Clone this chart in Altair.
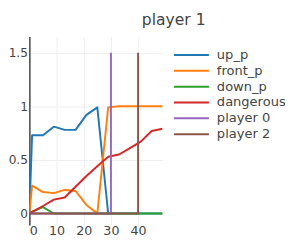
import altair as alt
import pandas as pd

steps = [0, 1, 5, 9, 13, 17, 21, 25, 29, 33, 37, 41, 45, 49]
up_p = [0, 0.73, 0.73, 0.81, 0.78, 0.78, 0.92, 0.99, 0, 0, 0, 0, 0, 0]
front_p = [0, 0.26, 0.20, 0.19, 0.22, 0.21, 0.08, 0, 0.99, 1.0, 1.0, 1.0, 1.0, 1.0]
down_p = [0, 0.015, 0.06, 0, 0, 0, 0, 0, 0, 0, 0, 0, 0, 0]
dangerous = [0, 0.015, 0.07, 0.13, 0.15, 0.25, 0.35, 0.44, 0.53, 0.55, 0.61, 0.67, 0.77, 0.79]
player0_x = [0, 30, 30]
player0_y = [0, 0, 1.5]
player2_x = [0, 40, 40]
player2_y = [0, 0, 1.5]

series = ["up_p", "front_p", "down_p", "dangerous", "player 0", "player 2"]
colors = ["#1f77b4", "#ff7f0e", "#2ca02c", "#d62728", "#9467bd", "#8c564b"]

rows = []
for name, ys in [("up_p", up_p), ("front_p", front_p), ("down_p", down_p), ("dangerous", dangerous)]:
    for i, (x, y) in enumerate(zip(steps, ys)):
        rows.append({"x": x, "y": y, "series": name, "i": i})
for name, xs, ys in [("player 0", player0_x, player0_y), ("player 2", player2_x, player2_y)]:
    for i, (x, y) in enumerate(zip(xs, ys)):
        rows.append({"x": x, "y": y, "series": name, "i": i})
df = pd.DataFrame(rows)

FONT = "DejaVu Sans"
color_scale = alt.Scale(domain=series, range=colors)

layers = []
for k, name in enumerate(series):
    layers.append(
        alt.Chart(df).transform_filter(alt.datum.series == name).mark_line(
            strokeWidth=2, strokeJoin="round", clip=True
        ).encode(
            x=alt.X("x:Q", scale=alt.Scale(domain=[0, 49], nice=False, zero=False),
                    axis=alt.Axis(values=[0, 10, 20, 30, 40], title=None, grid=True,
                                  gridColor="#eeeeee", domain=False, ticks=False,
                                  labelFontSize=13, labelColor="#444444", labelFont=FONT,
                                  labelPadding=0)),
            y=alt.Y("y:Q", scale=alt.Scale(domain=[-0.108, 1.65], nice=False, zero=False),
                    axis=alt.Axis(values=[0, 0.5, 1, 1.5], format="~g", title=None, grid=True,
                                  gridColor="#eeeeee", domain=True, domainColor="#444444",
                                  domainWidth=1.5, ticks=False, labelFontSize=12.5,
                                  labelColor="#444444", labelFont=FONT, labelPadding=2)),
            color=alt.Color("series:N", scale=color_scale,
                            legend=alt.Legend(
                                title=None, orient="none", legendX=160, legendY=12.25,
                                symbolType="M-6,0H6", symbolSize=36, symbolStrokeWidth=2,
                                labelFontSize=13.4, labelFont=FONT, labelColor="#444444",
                                labelOffset=19.5, rowPadding=1.3, padding=0)),
            order="i:Q",
        )
    )

chart = alt.layer(*layers).properties(
    width=137,
    height=194,
    autosize=alt.AutoSizeParams(type="none"),
    padding={"left": 22, "top": 26, "right": 126, "bottom": 14},
    title=alt.TitleParams("player 1", font=FONT, fontSize=16, fontWeight="normal",
                          color="#444444", anchor="middle", dx=80, offset=9),
).configure_view(stroke=None)

chart.save("out.html", embed_options={"renderer": "svg", "actions": False})
